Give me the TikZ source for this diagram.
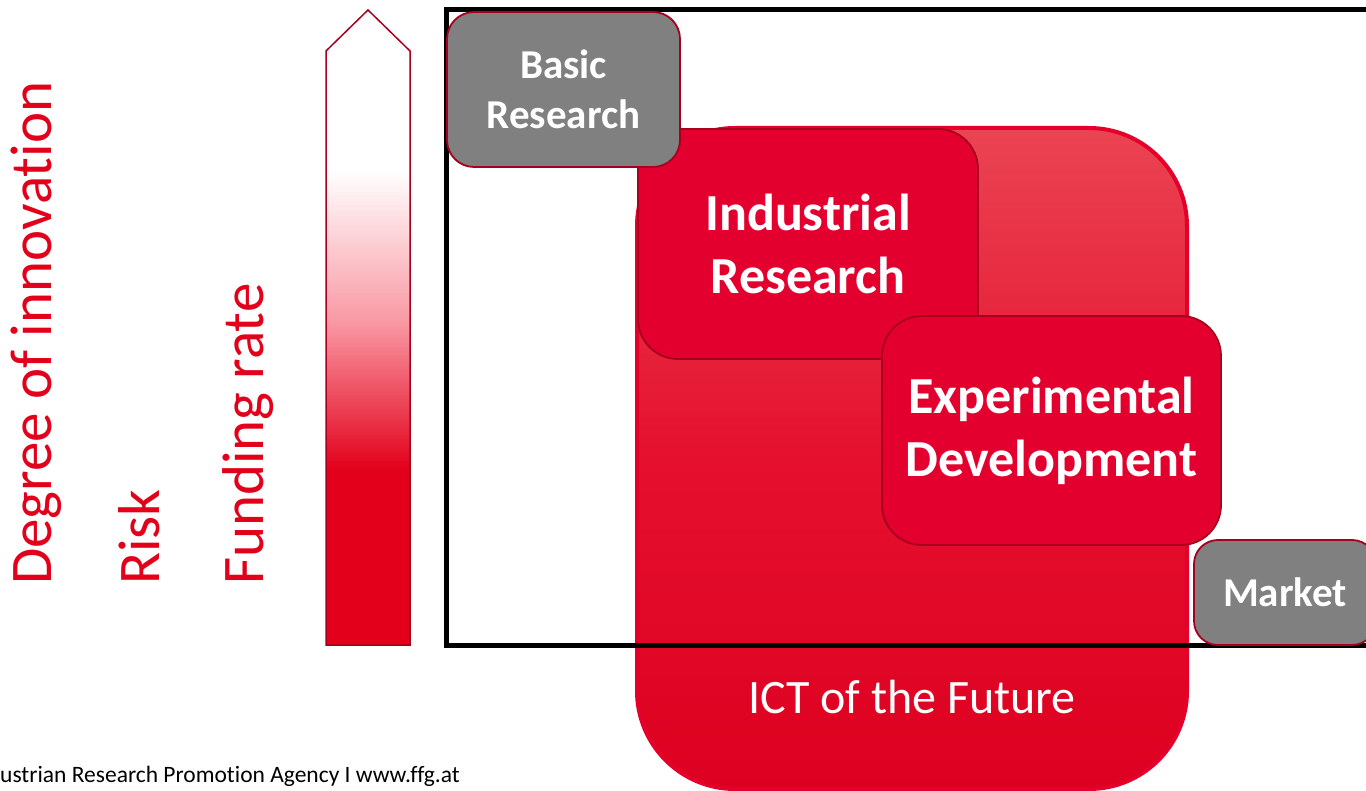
\documentclass[tikz,border=0pt]{standalone}
\usepackage{fontspec}
\setmainfont{Carlito}[RawFeature={-liga;-clig;-calt}]
\definecolor{ffgred}{HTML}{E2001A}
\definecolor{boxred}{HTML}{E3002F}
\definecolor{darkred}{HTML}{A6001E}
\definecolor{greybox}{HTML}{808080}
\definecolor{icttop}{HTML}{EA4452}
\definecolor{ictmid}{HTML}{E5102E}
\definecolor{ictbot}{HTML}{DE0020}
\definecolor{ictedge}{HTML}{E4002A}
\definecolor{pinkmid}{HTML}{F99AA5}
\begin{document}
\begin{tikzpicture}[x=1pt,y=-1pt,
  lbl/.style={text=ffgred, rotate=90, anchor=base west, inner sep=0pt, font=\fontsize{59}{61}\selectfont},
  phase/.style={draw=darkred, line width=1.8pt, fill=boxred, text=white, align=center, inner sep=0pt,
     rounded corners=40pt, font=\bfseries\fontsize{52}{63}\selectfont},
  greyphase/.style={draw=darkred, line width=1.8pt, fill=greybox, text=white, align=center, inner sep=0pt,
     rounded corners=27pt, font=\bfseries\fontsize{41}{50}\selectfont},
  frame/.style={draw=black, line width=5pt, inner sep=0pt}]
\clip (0,0) rectangle (1366,791);
\fill[white] (0,0) rectangle (1366,791);

% left labels
\node[lbl] (deg) at (51,585) {Degree of innovation};
\node[lbl] (risk) at (159,585) {Risk};
\node[lbl] (fund) at (263,585) {Funding rate};

% gradient arrow
\begin{scope}
  \clip (326,645) -- (326,51) -- (368,10) -- (410,51) -- (410,645) -- cycle;
  \fill[white] (320,0) rectangle (420,170);
  \shade[top color=white, bottom color=pinkmid] (320,170) rectangle (420,320);
  \shade[top color=pinkmid, bottom color=ffgred] (320,320) rectangle (420,470);
  \fill[ffgred] (320,470) rectangle (420,650);
\end{scope}
\draw[darkred, line width=1.5pt, line join=miter] (326,645) -- (326,51) -- (368,10) -- (410,51) -- (410,645) -- cycle;

% ICT of the Future
\node[draw=ictedge, line width=4pt, top color=icttop, bottom color=ictbot, middle color=ictmid,
      rounded corners=98pt, minimum width=550pt, minimum height=661pt, inner sep=0pt] (ict) at (912,458.5) {};
\node[text=white, anchor=base, inner sep=0pt, font=\fontsize{48}{50}\selectfont] (ictlabel) at (912,713) {ICT of the Future};

% frame
\node[frame, minimum width=934pt, minimum height=635pt] (frm) at (913,327.5) {};

% phases
\node[phase, minimum width=340pt, minimum height=230pt] (ind) at (808,244) {Industrial\\Research};
\node[phase, minimum width=339pt, minimum height=229pt] (exp) at (1051.5,430.5) {Experimental\\Development};
\node[greyphase, minimum width=233pt, minimum height=155pt] (basic) at (563.5,89.5) {Basic\\Research};
\node[greyphase, rounded corners=24pt, minimum width=182pt, minimum height=105pt] (market) at (1285,592.5) {Market};

% footer
\node[anchor=base west, inner sep=0pt, text=black, font=\fontsize{23.5}{25}\selectfont] (foot) at (0,782) {ustrian Research Promotion Agency I www.ffg.at};
\end{tikzpicture}
\end{document}
